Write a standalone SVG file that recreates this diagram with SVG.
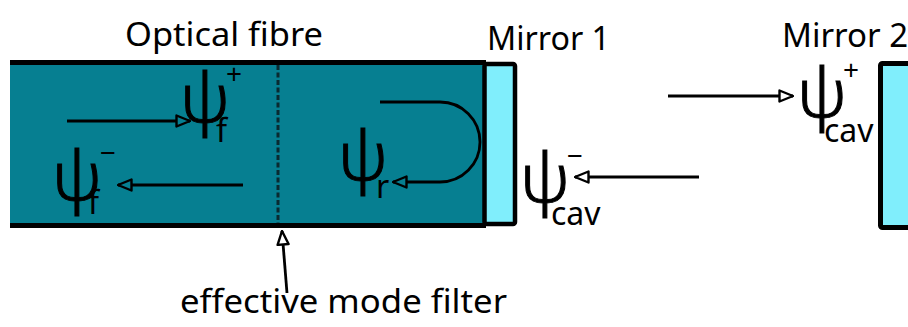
<svg xmlns="http://www.w3.org/2000/svg" width="908" height="327" viewBox="0 0 908 327">
<style>
.lbl{font-family:"Noto Sans","Open Sans",sans-serif;font-size:33px;fill:#000}
.psi{font-family:"Noto Sans","DejaVu Sans",sans-serif;font-weight:300;font-size:56px;fill:#000;stroke:#000;stroke-width:0.8}
.sub{font-family:"Noto Sans","Open Sans",sans-serif;font-size:32px;fill:#000}
.sup{font-family:"Noto Sans","Open Sans",sans-serif;font-size:28px;fill:#000}
.ln{stroke:#000;stroke-width:2.8;fill:none}
</style>
<defs>
<marker id="aT" viewBox="0 0 16 14" refX="15" refY="7" markerWidth="16" markerHeight="14" markerUnits="userSpaceOnUse" orient="auto">
<path d="M1.5,1.5 L15,7 L1.5,12.5 Z" fill="#067f91" stroke="#000" stroke-width="2.4" stroke-linejoin="round"/>
</marker>
<marker id="aW" viewBox="0 0 16 14" refX="15" refY="7" markerWidth="16" markerHeight="14" markerUnits="userSpaceOnUse" orient="auto">
<path d="M1.5,1.5 L15,7 L1.5,12.5 Z" fill="#fff" stroke="#000" stroke-width="2.4" stroke-linejoin="round"/>
</marker>
</defs>
<rect width="908" height="327" fill="#fff"/>
<g id="fibre">
<rect x="10" y="62" width="474" height="164" fill="#067f91"/>
<line x1="10" y1="62.5" x2="486" y2="62.5" stroke="#000" stroke-width="5"/>
<line x1="10" y1="225.5" x2="486" y2="225.5" stroke="#000" stroke-width="5"/>
<line x1="278" y1="65" x2="278" y2="223" stroke="#0a2a30" stroke-width="3" stroke-dasharray="5,2.5"/>
<text class="lbl" x="125" y="46" textLength="198" lengthAdjust="spacingAndGlyphs">Optical fibre</text>
</g>
<g id="mirror1">
<rect x="484.5" y="64" width="30.5" height="160" rx="2" fill="#80eefc" stroke="#000" stroke-width="4.5"/>
<text class="lbl" x="487" y="50" textLength="123" lengthAdjust="spacingAndGlyphs">Mirror 1</text>
</g>
<g id="mirror2">
<rect x="880.5" y="63.5" width="40" height="164" rx="2" fill="#80eefc" stroke="#000" stroke-width="5"/>
<text class="lbl" x="782" y="47">Mirror 2</text>
</g>
<g id="psi-f-plus">
<text class="psi" transform="translate(180,122) scale(1.25,1.2)">ψ</text>
<text class="sup" x="226" y="84">+</text>
<text class="sub" x="216" y="142">f</text>
</g>
<g id="psi-f-minus">
<text class="psi" transform="translate(52,200) scale(1.25,1.2)">ψ</text>
<text class="sup" x="100" y="163">−</text>
<text class="sub" x="88" y="214">f</text>
</g>
<g id="psi-r">
<text class="psi" transform="translate(338,180) scale(1.25,1.2)">ψ</text>
<text class="sub" x="376" y="198">r</text>
</g>
<g id="psi-cav-minus">
<text class="psi" transform="translate(520,202) scale(1.25,1.2)">ψ</text>
<text class="sup" x="567" y="166">−</text>
<text class="sub" x="551" y="225">cav</text>
</g>
<g id="psi-cav-plus">
<text class="psi" transform="translate(797,117) scale(1.25,1.2)">ψ</text>
<text class="sup" x="843" y="80">+</text>
<text class="sub" x="824" y="142">cav</text>
</g>
<g id="filter-label">
<text class="lbl" x="180" y="313" textLength="327" lengthAdjust="spacingAndGlyphs">effective mode filter</text>
</g>
<g id="connectors">
<line class="ln" x1="67" y1="121" x2="190" y2="121" marker-end="url(#aT)"/>
<line class="ln" x1="243" y1="185" x2="118" y2="185" marker-end="url(#aT)"/>
<path class="ln" d="M380,102 H440 A40,40 0 0 1 440,182 H393" marker-end="url(#aT)"/>
<line class="ln" x1="699" y1="177" x2="575" y2="177" marker-end="url(#aW)"/>
<line class="ln" x1="668" y1="96" x2="793" y2="96" marker-end="url(#aW)"/>
<line class="ln" x1="287" y1="293" x2="282" y2="231" marker-end="url(#aW)"/>
</g>
</svg>
